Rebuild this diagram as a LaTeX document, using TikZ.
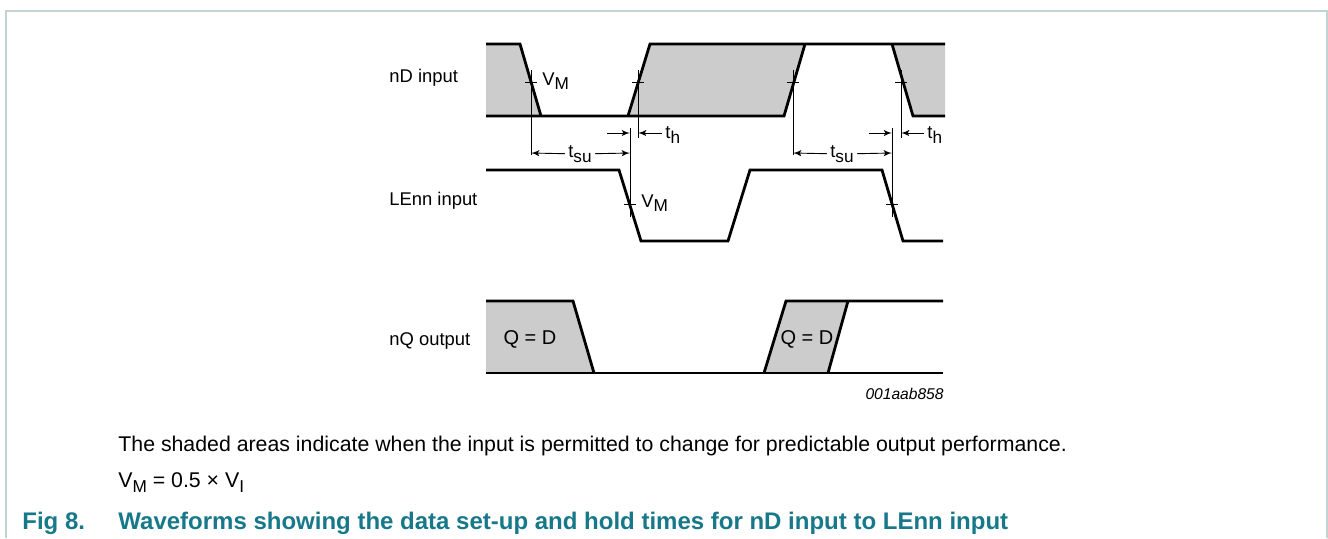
\documentclass[tikz,border=0pt]{standalone}
\usepackage{fontspec}
\setmainfont{Liberation Sans}
\usetikzlibrary{arrows}
\definecolor{figteal}{HTML}{17788A}
\definecolor{framegrey}{HTML}{C3D4D7}
\definecolor{areagrey}{HTML}{CCCCCC}
\newcommand\lowsub[1]{\raisebox{-0.45ex}{\fontsize{8.6}{9}\selectfont #1}}

\begin{document}
\begin{tikzpicture}[x=0.5pt,y=-0.5pt,>=latex',font=\fontsize{9.2}{11}\selectfont]
  \tikzstyle{wave}=[line width=1.4pt, line join=miter]
  \tikzstyle{guide}=[line width=0.45pt]
  \tikzstyle{dim}=[line width=0.45pt, ->]
  \tikzstyle{sig}=[anchor=west, inner sep=0pt]
  \tikzstyle{lab}=[fill=white, inner sep=1.5pt]
  \tikzstyle{note}=[anchor=base west, inner sep=0pt]
  \tikzstyle{body}=[note, font=\fontsize{10.65}{13}\selectfont]
  \tikzstyle{title}=[note, font=\fontsize{12}{14}\selectfont\bfseries, text=figteal]

  \useasboundingbox (0,0) rectangle (1328,538);
  \draw[framegrey, line width=1pt] (6,538) -- (6,11) -- (1327,11) -- (1327,538);

  % signal names
  \node[sig] (nD)   at (389,78)  {nD input};
  \node[sig] (LE)   at (389,201) {LEnn input};
  \node[sig] (nQ)   at (389,341) {nQ output};

  % shaded areas
  \fill[areagrey] (486,44) -- (520,44) -- (541,116) -- (486,116) -- cycle;
  \fill[areagrey] (628,116) -- (650,44) -- (805,44) -- (784,116) -- cycle;
  \fill[areagrey] (892,44) -- (945,44) -- (945,116) -- (913,116) -- cycle;
  \fill[areagrey] (486,301) -- (573,301) -- (594,373) -- (486,373) -- cycle;
  \fill[areagrey] (764,373) -- (786,301) -- (848,301) -- (828,373) -- cycle;

  % nD input
  \draw[wave] (486,44) -- (520,44) -- (541,116);
  \draw[wave] (486,116) -- (784,116) -- (805,44);
  \draw[wave] (628,116) -- (650,44) -- (945,44);
  \draw[wave] (892,44) -- (913,116) -- (945,116);

  % LEnn input
  \draw[wave] (486,170) -- (619,170) -- (641,241) -- (728,241) -- (750,170)
              -- (882,170) -- (903,241) -- (943,241);

  % nQ output
  \draw[wave] (486,301) -- (573,301) -- (594,373);
  \draw[wave] (486,373) -- (943,373);
  \draw[wave] (764,373) -- (786,301) -- (943,301);
  \draw[wave] (828,373) -- (848,301);

  % V_M crossings
  \foreach \x/\y in {531/82, 638/82, 793/82, 901/82, 630/204, 892/204}
    \draw[guide] (\x-6,\y) -- (\x+6,\y);
  \draw[guide] (531,70) -- (531,155);
  \draw[guide] (638,70) -- (638,138);
  \draw[guide] (793,70) -- (793,155);
  \draw[guide] (901,70) -- (901,138);
  \draw[guide] (630,128) -- (630,217);
  \draw[guide] (892,128) -- (892,217);
  \node[note] (vm1) at (542,85)  {V\lowsub{M}};
  \node[note] (vm2) at (641,207) {V\lowsub{M}};

  % set-up and hold times
  \coordinate (su1a) at (531,153);
  \coordinate (su1b) at (630,153);
  \coordinate (su2a) at (793,153);
  \coordinate (su2b) at (892,153);
  \node[lab] (tsu1) at (580,154) {t\lowsub{su}};
  \node[lab] (tsu2) at (842,154) {t\lowsub{su}};
  \draw[dim] (tsu1) -- (su1a);
  \draw[dim] (tsu1) -- (su1b);
  \draw[dim] (tsu2) -- (su2a);
  \draw[dim] (tsu2) -- (su2b);

  \coordinate (h1a) at (607,133);
  \coordinate (h1b) at (630,133);
  \coordinate (h1c) at (638,133);
  \node[sig] (th1) at (665,135) {t\lowsub{h}};
  \draw[dim] (th1.west) ++(-3,-2) coordinate (h1d) -- (h1c);
  \draw[dim] (h1a) -- (h1b);
  \coordinate (h2a) at (869,133);
  \coordinate (h2b) at (892,133);
  \coordinate (h2c) at (901,133);
  \node[sig] (th2) at (927,135) {t\lowsub{h}};
  \draw[dim] (h2a) -- (h2b);
  \draw[dim] (th2.west) ++(-3,-2) coordinate (h2d) -- (h2c);

  \node[font=\fontsize{10}{12}\selectfont] (qd1) at (530,339) {Q = D};
  \node[font=\fontsize{10}{12}\selectfont] (qd2) at (807,339) {Q = D};
  \node[anchor=east, inner sep=0pt, font=\fontsize{7.8}{9}\selectfont\itshape]
    (code) at (944,394) {001aab858};

  % caption
  \node[body] (txt) at (118,451)
    {The shaded areas indicate when the input is permitted to change for predictable output performance.};
  \node[body] (vm) at (118,487) {V\lowsub{M} = 0.5 × V\lowsub{I}};
  \node[title] (fig) at (22,529) {Fig 8.};
  \node[title] (cap) at (118,529)
    {Waveforms showing the data set-up and hold times for nD input to LEnn input};
\end{tikzpicture}
\end{document}
